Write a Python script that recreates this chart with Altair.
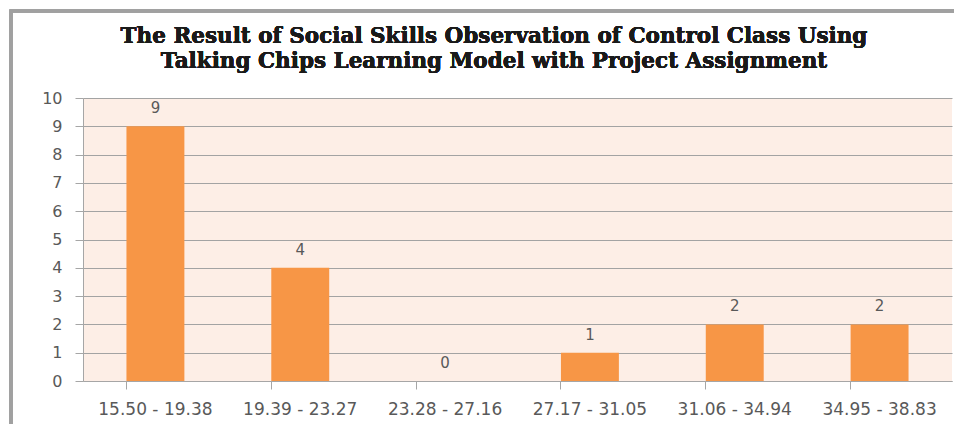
import altair as alt
import pandas as pd

categories = ["15.50 - 19.38", "19.39 - 23.27", "23.28 - 27.16",
              "27.17 - 31.05", "31.06 - 34.94", "34.95 - 38.83"]
counts = [9, 4, 0, 1, 2, 2]
y_ticks = [0, 1, 2, 3, 4, 5, 6, 7, 8, 9, 10]
title_lines = ["The Result of Social Skills Observation of Control Class Using",
               "Talking Chips Learning Model with Project Assignment"]

df = pd.DataFrame({"range": categories, "count": counts})

W, H = 869, 283

x = alt.X("range:N", sort=categories, title=None,
          scale=alt.Scale(paddingInner=0.6, paddingOuter=0.3),
          axis=alt.Axis(labelAngle=0, bandPosition=0, tickSize=8, labelPadding=12,
                        labelFont="DejaVu Sans", labelFontSize=17, labelColor="#595959",
                        domainColor="#a6a6a6", tickColor="#a6a6a6", grid=False))
y = alt.Y("count:Q", title=None,
          scale=alt.Scale(domain=[0, 10], nice=False),
          axis=alt.Axis(values=y_ticks, labelOverlap=False, tickSize=8, labelPadding=13,
                        labelFont="DejaVu Sans", labelFontSize=16, labelColor="#595959",
                        domainColor="#a6a6a6", tickColor="#a6a6a6",
                        gridColor="#a3a3a3", gridWidth=1))

base = alt.Chart(df).encode(x=x, y=y)
bars = base.mark_bar(color="#F79646")
labels = base.mark_text(dy=-18, font="DejaVu Sans", fontSize=15, color="#595959").encode(
    text="count:Q")

title_style = dict(font="DejaVu Serif", fontSize=21.5, fontWeight="bold", color="#1a1a1a", clip=False)
t1 = alt.Chart(df).mark_text(text=title_lines[0], **title_style).encode(
    x=alt.value(411), y=alt.value(-61))
t2 = alt.Chart(df).mark_text(text=title_lines[1], **title_style).encode(
    x=alt.value(411), y=alt.value(-36))

frame = alt.Chart(df).mark_rect(fillOpacity=0, stroke="#a0a0a0", strokeWidth=3, clip=False).encode(
    x=alt.value(-72), x2=alt.value(W + 60), y=alt.value(-87), y2=alt.value(H + 80))

chart = alt.layer(bars, labels, t1, t2, frame).properties(
    width=W, height=H,
    padding={"left": 75, "top": 90, "right": 2, "bottom": 43},
    autosize=alt.AutoSizeParams(type="none"),
    background="white",
).configure_view(fill="#FDEEE6", stroke=None)

chart.save("out.html", embed_options={"renderer": "svg", "actions": False})
